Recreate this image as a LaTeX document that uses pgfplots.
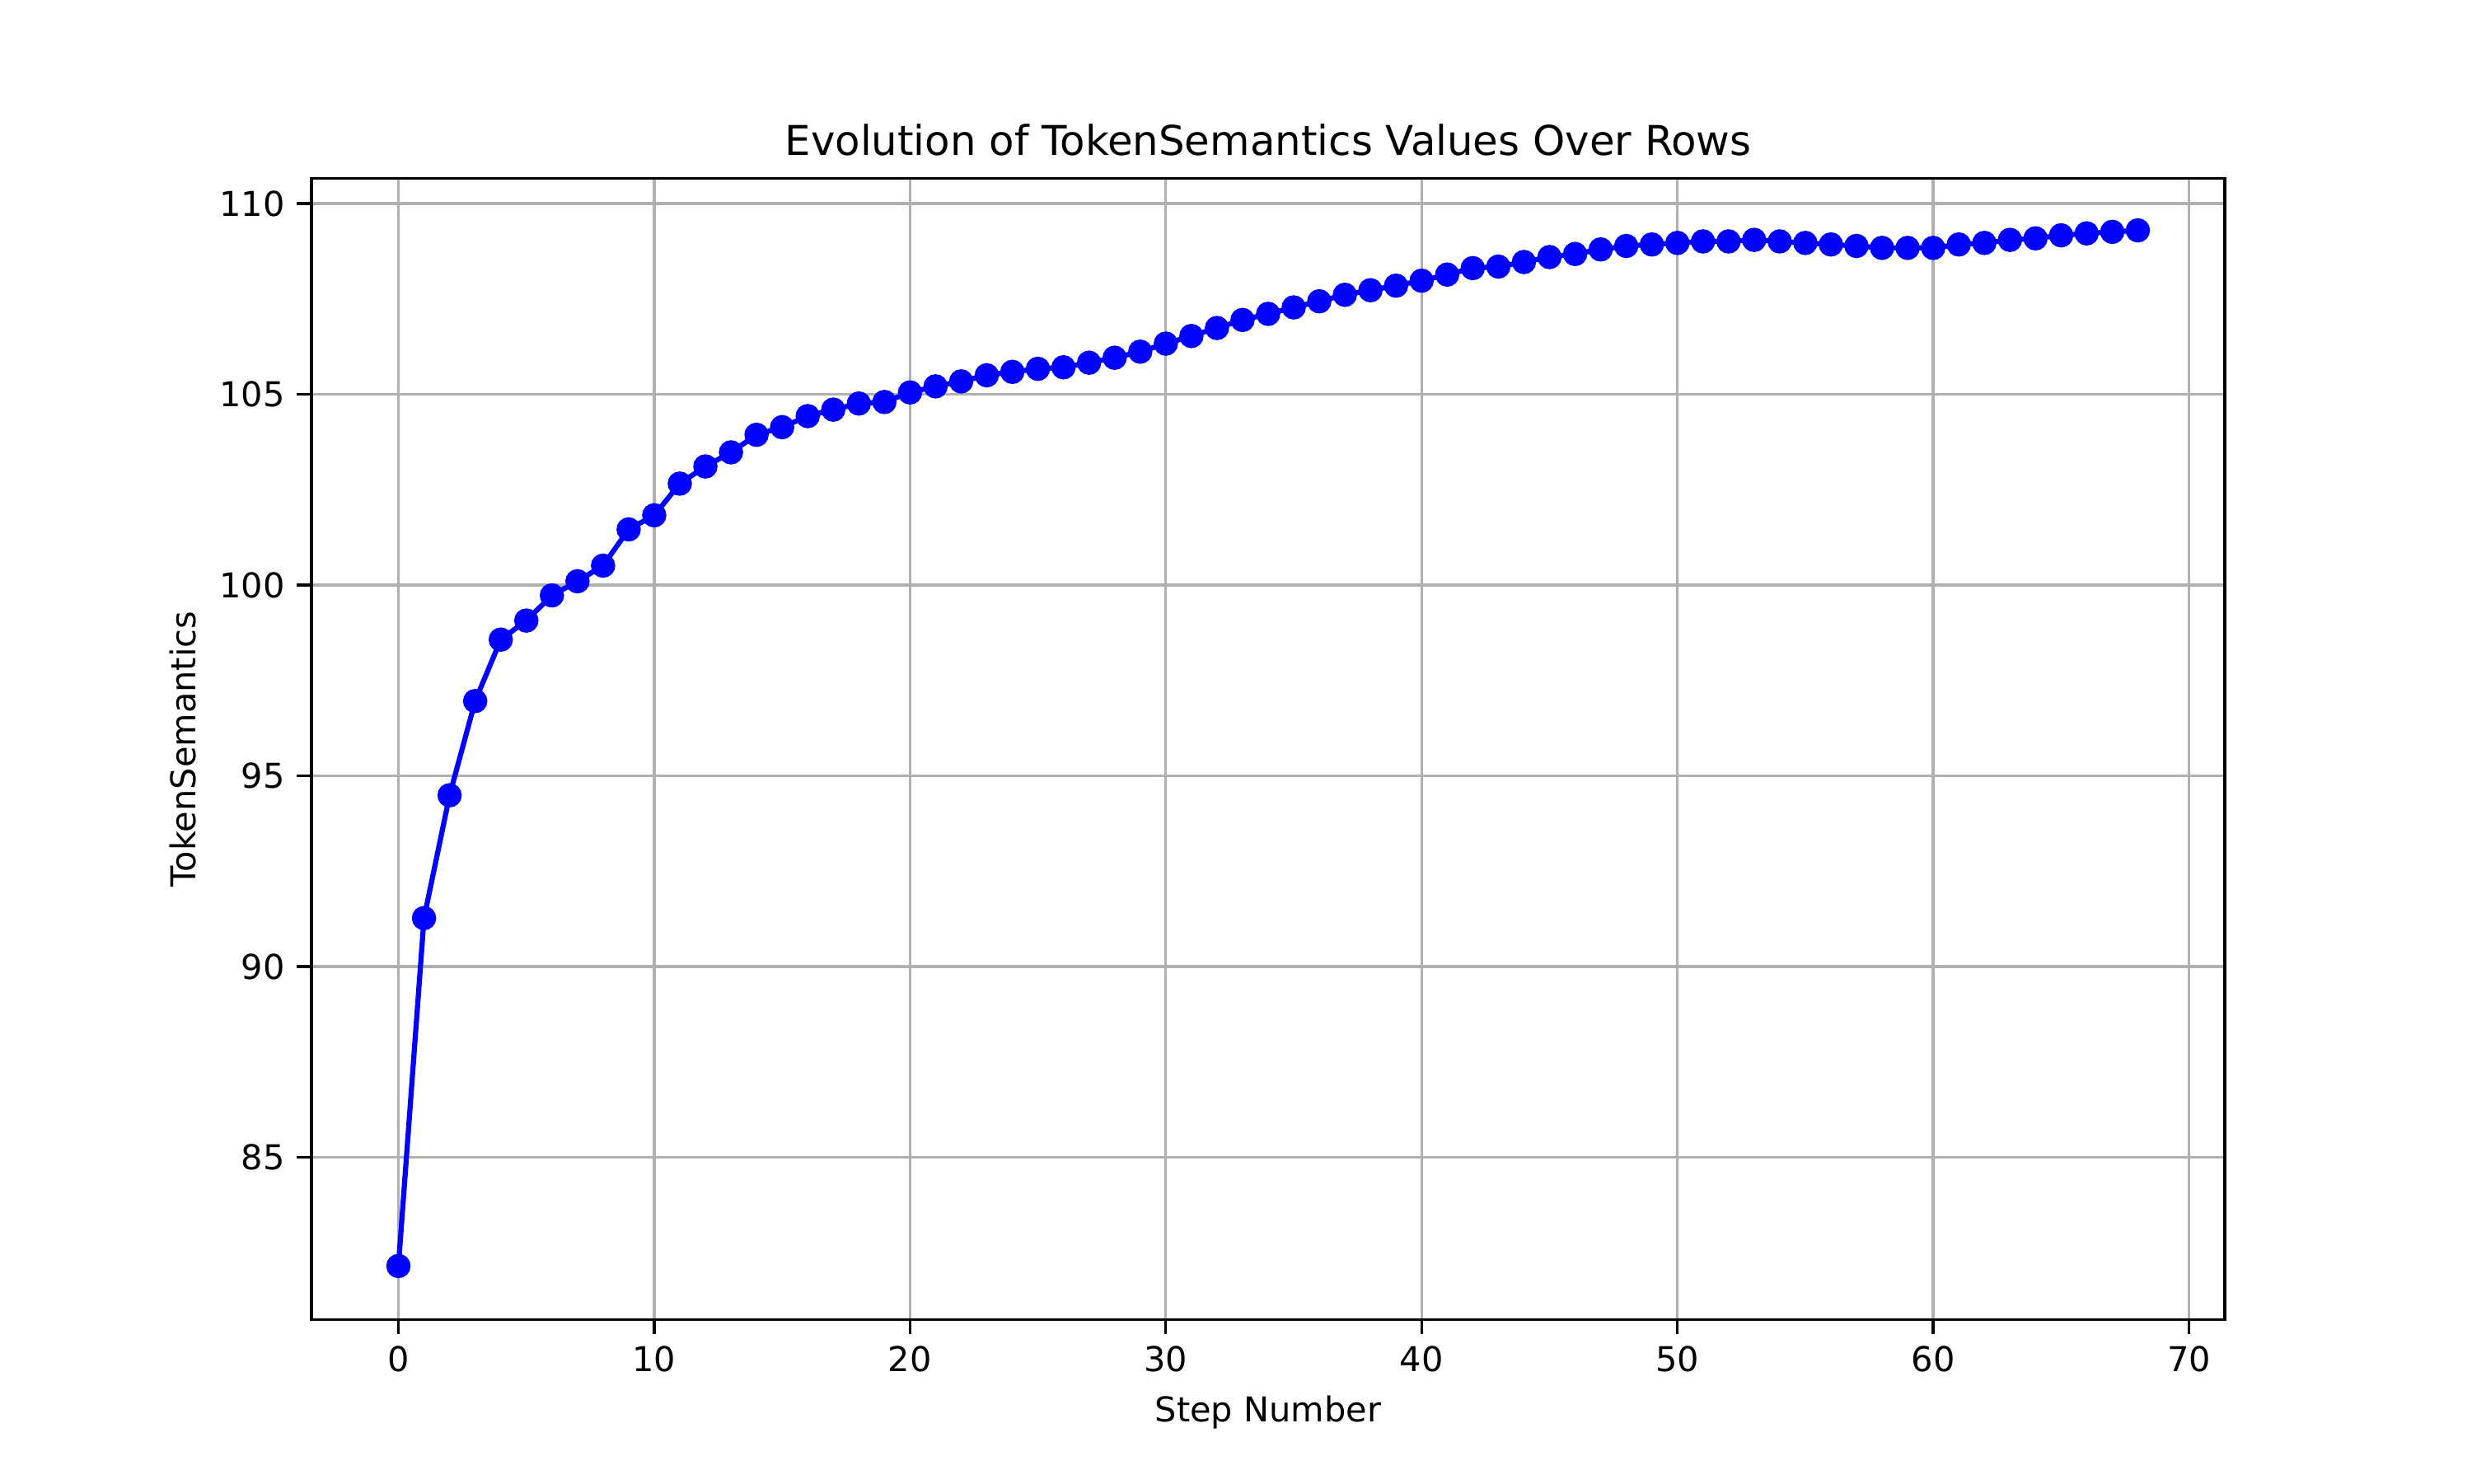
\documentclass[border=0pt]{standalone}
\usepackage{pgfplots}
\pgfplotsset{compat=1.18}
\usepackage{fontspec}
\setmainfont{DejaVu Sans}
\begin{document}
\begin{tikzpicture}
\fill[white] (0,0) rectangle (10in,6in);
\useasboundingbox (0,0) rectangle (10in,6in);
\begin{axis}[at={(1.26in,0.661in)},anchor=south west,scale only axis,
width=7.74in,height=4.617in,
xmin=-3.4,xmax=71.4,ymin=80.74,ymax=110.66,
xtick={0,10,...,70},ytick={85,90,...,110},
grid=major,grid style={color=black!31,line width=0.8pt},
axis line style={line width=0.8pt},
tick style={black,line width=0.8pt},
tick align=outside,tick pos=left,
/pgf/number format/assume math mode=true,
ticklabel style={font=\fontsize{10}{12}\selectfont},
label style={font=\fontsize{10}{12}\selectfont},
xlabel={Step Number},ylabel={TokenSemantics},
title={Evolution of TokenSemantics Values Over Rows},
title style={font=\fontsize{12}{14}\selectfont,yshift=-3pt},
]
\addplot[color=blue,line width=1.5pt,mark=*,mark size=2.8pt,mark options={fill=blue,draw=blue}] coordinates {
(0,82.15)(1,91.27)(2,94.49)(3,96.96)(4,98.57)(5,99.07)(6,99.73)(7,100.1)(8,100.51)(9,101.46)
(10,101.83)(11,102.66)(12,103.11)(13,103.48)(14,103.94)(15,104.14)(16,104.43)(17,104.6)(18,104.76)(19,104.8)
(20,105.05)(21,105.21)(22,105.34)(23,105.5)(24,105.59)(25,105.67)(26,105.71)(27,105.83)(28,105.96)(29,106.12)
(30,106.33)(31,106.53)(32,106.74)(33,106.95)(34,107.11)(35,107.28)(36,107.44)(37,107.61)(38,107.73)(39,107.85)
(40,107.98)(41,108.14)(42,108.31)(43,108.35)(44,108.47)(45,108.6)(46,108.68)(47,108.8)(48,108.89)(49,108.93)
(50,108.97)(51,109.01)(52,109.01)(53,109.05)(54,109.01)(55,108.97)(56,108.93)(57,108.89)(58,108.84)(59,108.84)
(60,108.84)(61,108.93)(62,108.97)(63,109.05)(64,109.09)(65,109.17)(66,109.22)(67,109.26)(68,109.3)};
\end{axis}
\end{tikzpicture}
\end{document}
